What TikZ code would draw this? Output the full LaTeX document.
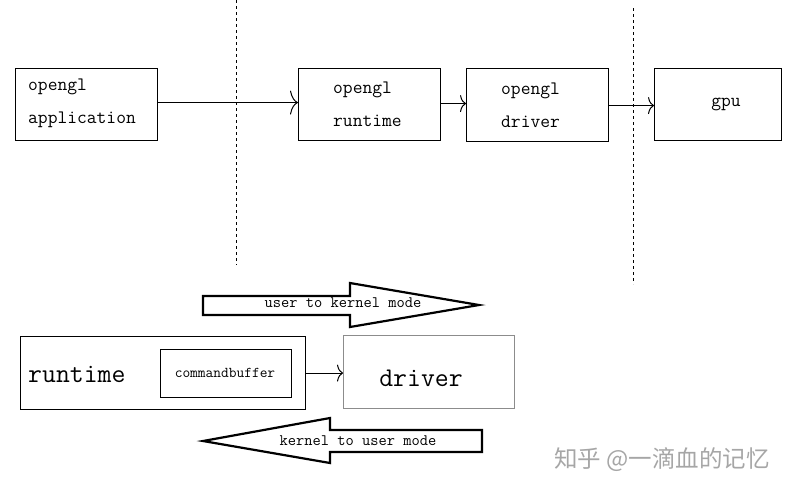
\documentclass[tikz,border=0pt]{standalone}
\usepackage{fontspec}
\newfontfamily\cjk{Noto Sans CJK SC}
\usetikzlibrary{arrows.meta}
\begin{document}
\begin{tikzpicture}[x=1pt,y=-1pt,
  box/.style={draw,line width=1.1pt,inner sep=0pt,anchor=north west},
  lbl/.style={font=\fontsize{19}{33}\ttfamily,align=left,inner sep=0pt},
  bigtxt/.style={font=\fontsize{27}{30}\ttfamily,inner sep=0pt},
  midtxt/.style={font=\fontsize{16}{18}\ttfamily,inner sep=0pt},
  smalltxt/.style={font=\fontsize{15}{17}\ttfamily,inner sep=0pt},
  conn/.style={line width=1pt},
  bighead/.style={-{To[length=8pt,width=24pt]}},
  smallhead/.style={-{To[length=6pt,width=17pt]}},
  divider/.style={line width=0.8pt,dash pattern=on 3pt off 3pt},
  fat/.style={line width=2.2pt,line join=miter,fill=white}]
\useasboundingbox (0,0) rectangle (791,491);

% top row boxes
\node[box,minimum width=142pt,minimum height=72pt] (app) at (15,68) {};
\node[box,minimum width=142pt,minimum height=72pt] (rtm) at (298,68) {};
\node[box,minimum width=142pt,minimum height=73pt] (drv) at (466,68) {};
\node[box,minimum width=127pt,minimum height=72pt] (gpu) at (654,68) {};

\node[lbl,anchor=west] (tapp) at (28,103) {opengl\\application};
\node[lbl,anchor=west] (trtm) at (333,104) {opengl\\runtime};
\node[lbl,anchor=west] (tdrv) at (501,105) {opengl\\driver};
\node[lbl] (tgpu) at (726,104) {gpu};

% dividers
\coordinate (d1a) at (236,0);
\coordinate (d1b) at (236,265);
\coordinate (d2a) at (633,8);
\coordinate (d2b) at (633,284);
\draw[divider] (d1a) -- (d1b);
\draw[divider] (d2a) -- (d2b);

% connectors
\draw[conn,bighead] ([yshift=2pt]app.east) -- ([yshift=2pt]app.east -| rtm.west);
\draw[conn,smallhead] ([yshift=1pt]rtm.east) -- ([yshift=1pt]rtm.east -| drv.west);
\draw[conn,smallhead] ([yshift=-0.5pt]drv.east) -- ([yshift=-0.5pt]drv.east -| gpu.west);

% big arrows
\draw[fat] (203,296) -- (350,296) -- (350,283) -- (479,305) -- (350,327) -- (350,315) -- (203,315) -- cycle;
\node[midtxt] (u2k) at (343,303) {user to kernel mode};
\draw[fat] (482,430) -- (330,430) -- (330,418) -- (203,441) -- (330,463) -- (330,452) -- (482,452) -- cycle;
\node[midtxt] (k2u) at (358,441) {kernel to user mode};

% bottom boxes
\node[box,minimum width=285pt,minimum height=73pt] (rt) at (20,336) {};
\node[bigtxt,anchor=west] (trt) at (28,374) {runtime};
\node[box,line width=1pt,minimum width=131pt,minimum height=48pt] (cb) at (160,349) {};
\node[smalltxt] (tcb) at (225,373) {commandbuffer};
\node[box,draw=black!45,line width=0.8pt,minimum width=171pt,minimum height=73pt] (dr) at (343,335) {};
\node[bigtxt] (tdr) at (421,378) {driver};
\draw[conn,smallhead] (rt.east) -- (rt.east -| dr.west);

% watermark
\node[font=\cjk\fontsize{23.5}{25}\selectfont,text=black!35,inner sep=0pt] (wm) at (662,460) {知乎 @一滴血的记忆};
\end{tikzpicture}
\end{document}
